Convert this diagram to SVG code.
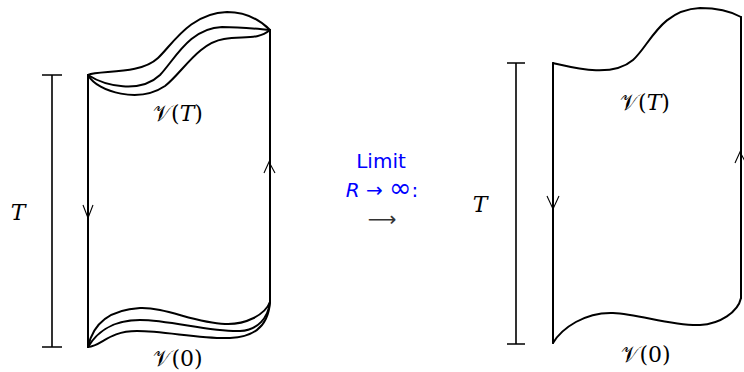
<svg xmlns="http://www.w3.org/2000/svg" width="744" height="372" viewBox="0 0 744 372">
<style>
.edge{fill:none;stroke:#000;stroke-width:2;stroke-linejoin:round;stroke-linecap:round}
.bar{fill:none;stroke:#000;stroke-width:1.6}
.arr{fill:none;stroke:#000;stroke-width:1.1;stroke-linejoin:miter}
.math{font-family:"DejaVu Serif","Liberation Serif",serif;font-size:22px;fill:#000}
.it{font-style:italic}
.blue{font-family:"DejaVu Sans","Liberation Sans",sans-serif;font-size:20px;fill:#0000ff}
</style>
<rect width="744" height="372" fill="#fff"/>
<g id="left-sheet">
<path class="edge" d="M88,75 V347"/>
<path class="edge" d="M270,30 V302"/>
<path class="edge" d="M88,75 C100,70 140,75 158,58 C172,45 190,13 227,12 C248,12 262,22 270,30"/>
<path class="edge" d="M88,75 C105,86 140,94 160,75 C175,59 190,28 222,27 C242,27 258,29 270,30"/>
<path class="edge" d="M88,75 C98,93 140,103 165,86 C182,73 198,43 224,39 C244,36 258,40 270,30"/>
<path class="edge" d="M88,347 C92,328 105,310 140,308 C165,307 195,323 225,324 C245,325 265,315 270,302"/>
<path class="edge" d="M88,347 C95,335 110,320 140,320 C170,320 210,332 240,331 C258,330 268,318 270,302"/>
<path class="edge" d="M88,347 C102,346 108,331 137,331 C165,331 200,339 230,338 C250,337 268,330 270,302"/>
<polyline class="arr" points="83,205 88,218 93,205"/>
<polyline class="arr" points="264,173 269,162 275,173"/>
<text class="math" x="178" y="121" text-anchor="middle">𝒱(<tspan class="it">T</tspan>)</text>
<text class="math" x="178" y="366" text-anchor="middle">𝒱(0)</text>
</g>
<g id="left-T">
<path class="bar" d="M52,75 V347 M42,75 H62 M42,347 H62"/>
<text class="math it" x="18" y="220" text-anchor="middle">T</text>
</g>
<g id="limit-label">
<text class="blue" x="381" y="168" text-anchor="middle">Limit</text>
<text class="blue" x="382" y="197" text-anchor="middle" font-size="23"><tspan font-style="italic">R</tspan> → <tspan font-size="27">∞</tspan>:</text>
<text x="382" y="226" text-anchor="middle" font-family="DejaVu Sans, sans-serif" font-size="20" fill="#333">⟶</text>
</g>
<g id="right-sheet">
<path class="edge" d="M553,63 V343"/>
<path class="edge" d="M741,17 V298"/>
<path class="edge" d="M553,63 C575,68 612,78 633,60 C650,45 660,10 700,8 C718,8 732,12 741,17"/>
<path class="edge" d="M553,343 C562,328 585,312 613,313 C640,314 670,326 700,325 C720,324 738,312 741,298"/>
<polyline class="arr" points="547,196 553,209 559,196"/>
<polyline class="arr" points="735,163 740,152 746,163"/>
<text class="math" x="645" y="110" text-anchor="middle">𝒱(<tspan class="it">T</tspan>)</text>
<text class="math" x="646" y="362" text-anchor="middle">𝒱(0)</text>
</g>
<g id="right-T">
<path class="bar" d="M516,63 V344 M507,63 H525 M507,344 H525"/>
<text class="math it" x="480" y="212" text-anchor="middle">T</text>
</g>
</svg>
